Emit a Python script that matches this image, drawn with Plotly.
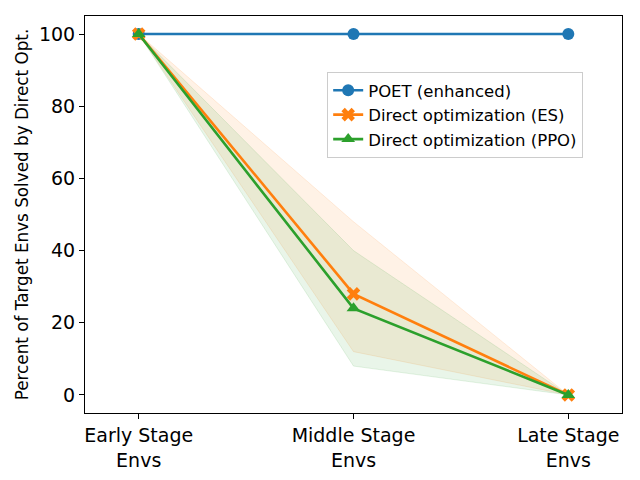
import plotly.graph_objects as go

categories = ["Early Stage<br>Envs", "Middle Stage<br>Envs", "Late Stage<br>Envs"]
xpos = [0, 1, 2]
poet = [100, 100, 100]
es_mean = [100, 28, 0]
es_low = [100, 12, 0]
es_high = [100, 48, 0]
ppo_mean = [100, 24, 0]
ppo_low = [100, 8, 0]
ppo_high = [100, 40, 0]

blue = "#1f77b4"
orange = "#ff7f0e"
green = "#2ca02c"

fig = go.Figure()

def band(low, high, rgb):
    fig.add_trace(go.Scatter(x=xpos + xpos[::-1], y=high + low[::-1], fill="toself",
                             fillcolor=f"rgba({rgb},0.1)",
                             line=dict(color=f"rgba({rgb},0.12)", width=1),
                             mode="lines", showlegend=False, hoverinfo="skip"))

band(es_low, es_high, "255,127,14")
band(ppo_low, ppo_high, "44,160,44")

fig.add_trace(go.Scatter(x=xpos, y=poet, mode="lines+markers", name="POET (enhanced)",
                         line=dict(color=blue, width=2.6), marker=dict(symbol="circle", size=12, color=blue)))
fig.add_trace(go.Scatter(x=xpos, y=es_mean, mode="lines+markers", name="Direct optimization (ES)",
                         line=dict(color=orange, width=2.6), marker=dict(symbol="x", size=12, color=orange)))
fig.add_trace(go.Scatter(x=xpos, y=ppo_mean, mode="lines+markers", name="Direct optimization (PPO)",
                         line=dict(color=green, width=2.6), marker=dict(symbol="triangle-up", size=12, color=green)))

fig.update_layout(
    width=640, height=480,
    margin=dict(l=77, r=26, t=8, b=75),
    plot_bgcolor="white", paper_bgcolor="white",
    font=dict(family="DejaVu Sans", color="black"),
    legend=dict(x=0.451, y=0.859, xanchor="left", yanchor="top",
                bordercolor="#cccccc", borderwidth=1, bgcolor="rgba(255,255,255,0.8)",
                font=dict(size=16.5), tracegroupgap=2),
    showlegend=True,
)
fig.update_xaxes(range=[-0.25, 2.25], tickvals=xpos, ticktext=categories, automargin=False,
                 showgrid=False, zeroline=False, showline=True, linecolor="black", linewidth=1,
                 mirror=True, ticks="outside", ticklen=5, tickcolor="black",
                 tickfont=dict(size=19))
fig.update_yaxes(range=[-5, 105], tickvals=[0, 20, 40, 60, 80, 100], automargin=False,
                 showgrid=False, zeroline=False, showline=True, linecolor="black", linewidth=1,
                 mirror=True, ticks="outside", ticklen=5, tickcolor="black",
                 tickfont=dict(size=19),
                 title=dict(text="Percent of Target Envs Solved by Direct Opt.", font=dict(size=16.8), standoff=6))

fig.write_html("out.html")
